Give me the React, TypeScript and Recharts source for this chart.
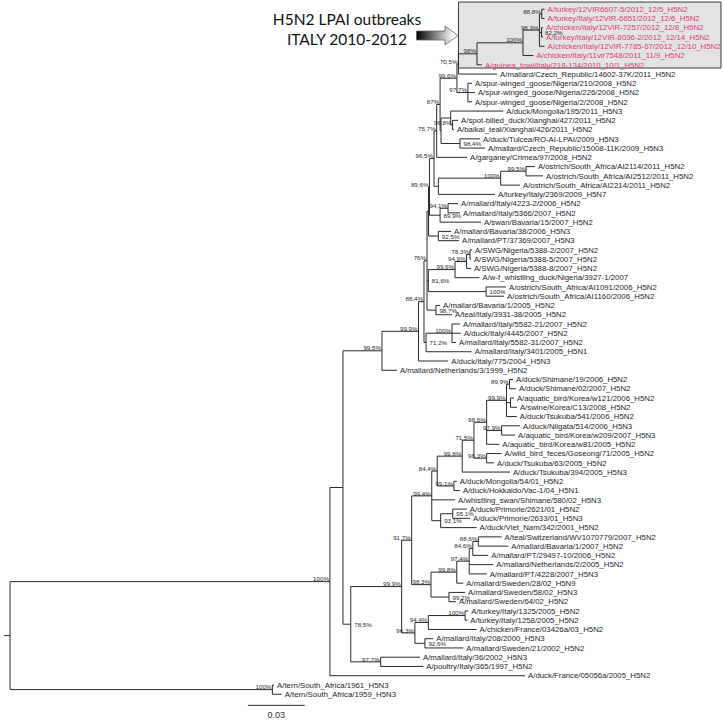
import { ScatterChart, Scatter, XAxis, YAxis, ReferenceLine, ReferenceArea } from "recharts";

// tips, top to bottom (row = index)
const leafNames = [
  "A/turkey/12VIR6607-5/2012_12/5_H5N2",
  "A/turkey/Italy/12VIR-6651/2012_12/6_H5N2",
  "A/chicken/Italy/12VIR-7257/2012_12/8_H5N2",
  "A/turkey/Italy/12VIR-8036-2/2012_12/14_H5N2",
  "A/chicken/Italy/12VIR-7785-67/2012_12/10_H5N2",
  "A/chicken/Italy/11vir7548/2011_11/9_H5N2",
  "A/guinea_fowl/Italy/218-134/2010_10/1_H5N2",
  "A/mallard/Czech_Republic/14602-37K/2011_H5N2",
  "A/spur-winged_goose/Nigeria/210/2008_H5N2",
  "A/spur-winged_goose/Nigeria/226/2008_H5N2",
  "A/spur-winged_goose/Nigeria/2/2008_H5N2",
  "A/duck/Mongolia/195/2011_H5N3",
  "A/spot-billed_duck/Xianghai/427/2011_H5N2",
  "A/baikal_teal/Xianghai/426/2011_H5N2",
  "A/duck/Tulcea/RO-AI-LPAI/2009_H5N3",
  "A/mallard/Czech_Republic/15008-11K/2009_H5N3",
  "A/garganey/Crimea/97/2008_H5N2",
  "A/ostrich/South_Africa/AI2114/2011_H5N2",
  "A/ostrich/South_Africa/AI2512/2011_H5N2",
  "A/ostrich/South_Africa/AI2214/2011_H5N2",
  "A/turkey/Italy/2369/2009_H5N7",
  "A/mallard/Italy/4223-2/2006_H5N2",
  "A/mallard/Italy/5366/2007_H5N2",
  "A/swan/Bavaria/15/2007_H5N2",
  "A/mallard/Bavaria/38/2006_H5N3",
  "A/mallard/PT/37369/2007_H5N3",
  "A/SWG/Nigeria/5388-2/2007_H5N2",
  "A/SWG/Nigeria/5388-5/2007_H5N2",
  "A/SWG/Nigeria/5388-8/2007_H5N2",
  "A/w-f_whistling_duck/Nigeria/3927-1/2007",
  "A/ostrich/South_Africa/AI1091/2006_H5N2",
  "A/ostrich/South_Africa/AI1160/2006_H5N2",
  "A/mallard/Bavaria/1/2005_H5N2",
  "A/teal/Italy/3931-38/2005_H5N2",
  "A/mallard/Italy/5582-21/2007_H5N2",
  "A/duck/Italy/4445/2007_H5N2",
  "A/mallard/Italy/5582-31/2007_H5N2",
  "A/mallard/Italy/3401/2005_H5N1",
  "A/duck/Italy/775/2004_H5N3",
  "A/mallard/Netherlands/3/1999_H5N2",
  "A/duck/Shimane/19/2006_H5N2",
  "A/duck/Shimane/02/2007_H5N2",
  "A/aquatic_bird/Korea/w121/2006_H5N2",
  "A/swine/Korea/C13/2008_H5N2",
  "A/duck/Tsukuba/541/2006_H5N2",
  "A/duck/Niigata/514/2006_H5N3",
  "A/aquatic_bird/Korea/w209/2007_H5N3",
  "A/aquatic_bird/Korea/w81/2005_H5N2",
  "A/wild_bird_feces/Goseong/71/2005_H5N2",
  "A/duck/Tsukuba/63/2005_H5N2",
  "A/duck/Tsukuba/394/2005_H5N3",
  "A/duck/Mongolia/54/01_H5N2",
  "A/duck/Hokkaido/Vac-1/04_H5N1",
  "A/whistling_swan/Shimane/580/02_H5N3",
  "A/duck/Primorie/2621/01_H5N2",
  "A/duck/Primorie/2633/01_H5N3",
  "A/duck/Viet_Nam/342/2001_H5N2",
  "A/teal/Switzerland/WV1070779/2007_H5N2",
  "A/mallard/Bavaria/1/2007_H5N2",
  "A/mallard/PT/29497-10/2006_H5N2",
  "A/mallard/Netherlands/2/2005_H5N2",
  "A/mallard/PT/4228/2007_H5N3",
  "A/mallard/Sweden/28/02_H5N9",
  "A/mallard/Sweden/58/02_H5N3",
  "A/mallard/Sweden/64/02_H5N2",
  "A/turkey/Italy/1325/2005_H5N2",
  "A/turkey/Italy/1258/2005_H5N2",
  "A/chicken/France/03426a/03_H5N2",
  "A/mallard/Italy/208/2000_H5N3",
  "A/mallard/Sweden/21/2002_H5N2",
  "A/mallard/Italy/36/2002_H5N3",
  "A/poultry/Italy/365/1997_H5N2",
  "A/duck/France/05056a/2005_H5N2",
  "A/tern/South_Africa/1961_H5N3",
  "A/tern/South_Africa/1959_H5N3",
];

const leafParents = [
  "n88_8", "n88_8", "n82_2", "n82_2", "n98_3a",
  "n100a", "n98", "n70_5", "n97_7a", "n97_7a",
  "n97_7a", "nMong", "n96_8", "n96_8", "n98_4",
  "n98_4", "n75_7", "n99_5o", "n99_5o", "n100o",
  "n438", "n94_1", "n94_1", "n89_9a", "n92_5",
  "n92_5", "n78_3", "n78_3", "n94_9", "n99_6b",
  "n100b", "n100b", "n98_7", "n98_7", "n100c",
  "n100c", "n100c", "n71_2", "n99_9", "n99_5",
  "n89_9b", "n89_9b", "nKor", "nKor", "n99_9c",
  "n97_9", "n97_9", "n98_6", "n96_3c", "n96_3c",
  "n99_8a", "n99_1", "n99_1", "n99_4", "n95_1",
  "n95_1", "n93_1", "n88_6", "n88_6", "n84_6",
  "n97_4", "n97_4", "n99_8b", "n99_2", "n99_2",
  "n100d", "n100d", "n94_4", "n92_6", "n92_6",
  "n97_7b", "n97_7b", "n330", "n100t", "n100t",
];

// distance from root (substitutions/site)
const leafDepths = [
  0.2824, 0.2824, 0.2816, 0.2816, 0.2824,
  0.2765, 0.2493, 0.2573, 0.2441, 0.2456,
  0.2441, 0.2606, 0.2367, 0.2345, 0.2483,
  0.2509, 0.2414, 0.2773, 0.2816, 0.2694,
  0.2562, 0.2367, 0.2377, 0.2488, 0.2330,
  0.2372, 0.2441, 0.2435, 0.2435, 0.2480,
  0.2620, 0.2610, 0.2272, 0.2335, 0.2377,
  0.2382, 0.2356, 0.2439, 0.2315, 0.2044,
  0.2657, 0.2673, 0.2662, 0.2678, 0.2677,
  0.2694, 0.2668, 0.2585, 0.2597, 0.2557,
  0.2641, 0.2360, 0.2377, 0.2351, 0.2413,
  0.2430, 0.2465, 0.2597, 0.2632, 0.2527,
  0.2553, 0.2518, 0.2395, 0.2404, 0.2356,
  0.2421, 0.2416, 0.2465, 0.2236, 0.2395,
  0.2166, 0.2183, 0.2721, 0.1395, 0.1435,
];

// internal nodes
const nodeIds = [
  "root", "n330", "n343", "n99_5", "n99_9", "n88_4",
  "n76", "nB", "n89_6", "n96_5", "n75_7", "n87",
  "n99_6a", "n70_5", "n98", "n100a", "n98_3a", "n88_8",
  "n82_2", "n97_7a", "nX", "nMong", "n96_8", "n98_4",
  "n438", "n100o", "n99_5o", "n89_9a", "n94_1", "n92_5",
  "n81_6", "n99_6b", "n94_9", "n78_3", "n100b", "n98_7",
  "n71_2", "n100c", "n78_5", "n99_9b", "n91_7", "n99_4",
  "n84_4", "n99_8a", "n71_5", "n98_6", "n99_9c", "n89_9b",
  "nKor", "n97_9", "n96_3c", "n99_1", "n93_1", "n95_1",
  "n98_3b", "n99_8b", "n97_4", "n84_6", "n88_6", "n99_2",
  "n96_3b", "n94_4", "n100d", "n92_6", "n97_7b", "n100t",
];

const nodeParents = [
  "", "root", "n330", "n343", "n99_5", "n99_9",
  "n88_4", "n76", "nB", "n89_6", "n96_5", "n75_7",
  "n87", "n99_6a", "n70_5", "n98", "n100a", "n98_3a",
  "n98_3a", "n99_6a", "n87", "nX", "nMong", "nX",
  "n96_5", "n438", "n100o", "n89_6", "n89_9a", "nB",
  "n76", "n81_6", "n99_6b", "n94_9", "n81_6", "n76",
  "n88_4", "n71_2", "n343", "n78_5", "n99_9b", "n91_7",
  "n99_4", "n84_4", "n99_8a", "n71_5", "n98_6", "n99_9c",
  "n99_9c", "n98_6", "n71_5", "n84_4", "n99_4", "n93_1",
  "n91_7", "n98_3b", "n99_8b", "n97_4", "n84_6", "n98_3b",
  "n99_9b", "n96_3b", "n94_4", "n96_3b", "n78_5", "root",
];

const nodeDepths = [
  0, 0.1690, 0.1759, 0.1965, 0.2158, 0.2187,
  0.2203, 0.2211, 0.2216, 0.2240, 0.2254, 0.2272,
  0.2361, 0.2369, 0.2467, 0.2710, 0.2797, 0.2809,
  0.2808, 0.2419, 0.2277, 0.2328, 0.2338, 0.2377,
  0.2263, 0.2592, 0.2726, 0.2272, 0.2314, 0.2263,
  0.2210, 0.2351, 0.2412, 0.2430, 0.2515, 0.2250,
  0.2198, 0.2335, 0.1800, 0.2069, 0.2122, 0.2228,
  0.2257, 0.2389, 0.2451, 0.2518, 0.2623, 0.2639,
  0.2644, 0.2597, 0.2518, 0.2345, 0.2275, 0.2339,
  0.2224, 0.2360, 0.2426, 0.2445, 0.2474, 0.2319,
  0.2139, 0.2210, 0.2404, 0.2192, 0.1958, 0.1386,
];

// bootstrap support
const nodeSupport = [
  "", "100%", "", "99,5%", "99,9%", "88,4%",
  "76%", "", "89,6%", "96,5%", "75,7%", "87%",
  "99,6%", "70,5%", "98%", "100%", "98,3%", "88,8%",
  "82,2%", "97,7%", "", "", "96,8%", "98,4%",
  "", "100%", "99,5%", "89,9%", "94,1%", "92,5%",
  "81,6%", "99,6%", "94,9%", "78,3%", "100%", "98,7%",
  "71,2%", "100%", "78,5%", "99,9%", "91,7%", "99,4%",
  "84,4%", "99,8%", "71,5%", "98,6%", "99,9%", "89,9%",
  "", "97,9%", "96,3%", "99,1%", "93,1%", "95,1%",
  "98,3%", "99,8%", "97,4%", "84,6%", "88,6%", "99,2%",
  "96,3%", "94,4%", "100%", "92,6%", "97,7%", "100%",
];

// support values drawn to the right of their node
const insideLabelNodes = [
  "n82_2", "n98_4", "n89_9a", "n92_5", "n81_6", "n100b",
  "n98_7", "n71_2", "n78_5", "n93_1", "n95_1", "n99_2", "n92_6",
];

const highlightClade = "n98";
const rootStem = 0.0032;
const scaleBarStart = 0.1257;
const scaleBarLength = 0.03;
const titleLines = ["H5N2 LPAI outbreaks", "ITALY 2010-2012"];

const LINE = "#2a2a2a";
const PINK = "#de3b7c";
const FONT = "'Liberation Sans', Arial, Helvetica, sans-serif";

// ---- build tree geometry (in data units) ----
const depthOf: Record<string, number> = {};
const parentOf: Record<string, string> = {};
nodeIds.forEach((id, i) => {
  depthOf[id] = nodeDepths[i];
  parentOf[id] = nodeParents[i];
});

const nodeRow: Record<string, number> = {};
const nodeSpan: Record<string, [number, number]> = {};
function placeNode(id: string): number {
  if (nodeRow[id] !== undefined) return nodeRow[id];
  const rows: number[] = [];
  leafParents.forEach((p, i) => {
    if (p === id) rows.push(i);
  });
  nodeIds.forEach((c, i) => {
    if (nodeParents[i] === id) rows.push(placeNode(c));
  });
  const lo = Math.min(...rows);
  const hi = Math.max(...rows);
  nodeSpan[id] = [lo, hi];
  nodeRow[id] = (lo + hi) / 2;
  return nodeRow[id];
}
nodeIds.forEach(placeNode);

type Seg = { x1: number; x2: number; y1: number; y2: number };
const branches: Seg[] = [];
leafNames.forEach((_, i) => {
  branches.push({ x1: depthOf[leafParents[i]], x2: leafDepths[i], y1: i, y2: i });
});
nodeIds.forEach((id, i) => {
  const p = nodeParents[i];
  const y = nodeRow[id];
  branches.push({ x1: p ? depthOf[p] : -rootStem, x2: nodeDepths[i], y1: y, y2: y });
  branches.push({ x1: nodeDepths[i], x2: nodeDepths[i], y1: nodeSpan[id][0], y2: nodeSpan[id][1] });
});

function inClade(node: string, clade: string) {
  let cur = node;
  while (cur) {
    if (cur === clade) return true;
    cur = parentOf[cur];
  }
  return false;
}

const leafLabels = leafNames.map((name, i) => ({
  x: leafDepths[i],
  y: i,
  name,
  hl: inClade(leafParents[i], highlightClade),
}));

const supportLabels = nodeIds
  .map((id, i) => ({
    x: nodeDepths[i],
    y: nodeRow[id],
    text: nodeSupport[i],
    inside: insideLabelNodes.includes(id),
  }))
  .filter((d) => d.text);

const cladeRows = leafLabels.filter((d) => d.hl).map((d) => d.y);
const boxLeft = depthOf[parentOf[highlightClade]];

const scaleRow = leafNames.length + 0.2;
const scaleText = [{ x: scaleBarStart + scaleBarLength / 2, y: scaleRow + 1, text: String(scaleBarLength) }];

export default function App() {
  return (
    <div style={{ position: "absolute", left: 0, top: 0, width: 724, height: 722, background: "#fff" }}>
      <ScatterChart width={724} height={722} margin={{ top: 0, right: 0, bottom: 0, left: 0 }}>
        <XAxis type="number" dataKey="x" domain={[-0.0053, 0.3772]} allowDataOverflow hide />
        <YAxis type="number" dataKey="y" domain={[-1, 77]} allowDataOverflow reversed hide />
        <ReferenceArea
          x1={boxLeft}
          x2={0.3756}
          y1={Math.min(...cladeRows) - 0.78}
          y2={Math.max(...cladeRows) + 0.35}
          fill="#e3e3e3"
          fillOpacity={1}
          stroke="#3a3a3a"
          strokeWidth={1}
          ifOverflow="visible"
        />
        {branches.map((s, i) => (
          <ReferenceLine
            key={"b" + i}
            segment={[
              { x: s.x1, y: s.y1 },
              { x: s.x2, y: s.y2 },
            ]}
            stroke={LINE}
            strokeWidth={1}
            ifOverflow="visible"
          />
        ))}
        <ReferenceLine
          segment={[
            { x: scaleBarStart, y: scaleRow },
            { x: scaleBarStart + scaleBarLength, y: scaleRow },
          ]}
          stroke={LINE}
          strokeWidth={1}
          ifOverflow="visible"
        />
        <Scatter
          data={leafLabels}
          isAnimationActive={false}
          shape={(p: any) => (
            <text
              x={p.cx + 3}
              y={p.cy}
              dy="0.35em"
              fontSize={7.8}
              fontFamily={FONT}
              fill={p.payload.hl ? PINK : "#1e1e1e"}
            >
              {p.payload.name}
            </text>
          )}
        />
        <Scatter
          data={supportLabels}
          isAnimationActive={false}
          shape={(p: any) =>
            p.payload.inside ? (
              <text x={p.cx + 3.5} y={p.cy + 0.5} dy="0.35em" fontSize={6.2} fontFamily={FONT} fill="#2a2a2a">
                {p.payload.text}
              </text>
            ) : (
              <text
                x={p.cx - 1}
                y={p.cy - 2.5}
                dy="0.35em"
                textAnchor="end"
                fontSize={6.2}
                fontFamily={FONT}
                fill="#2a2a2a"
              >
                {p.payload.text}
              </text>
            )
          }
        />
        <Scatter
          data={scaleText}
          isAnimationActive={false}
          shape={(p: any) => (
            <text x={p.cx} y={p.cy} dy="0.35em" textAnchor="middle" fontSize={9} fontFamily={FONT} fill="#333">
              {p.payload.text}
            </text>
          )}
        />
      </ScatterChart>
      <svg
        width={724}
        height={60}
        style={{ position: "absolute", left: 0, top: 0, pointerEvents: "none" }}
      >
        <defs>
          <linearGradient id="arrowFill" x1="0" y1="0" x2="1" y2="0">
            <stop offset="0%" stopColor="#000" />
            <stop offset="90%" stopColor="#fff" />
          </linearGradient>
        </defs>
        {titleLines.map((t, i) => (
          <text
            key={t}
            x={347}
            y={25 + i * 20}
            textAnchor="middle"
            fontSize={15.5}
            fontFamily="Lato, 'Open Sans', sans-serif"
            fill="#111"
          >
            {t}
          </text>
        ))}
        <path
          d="M416.5 31 H445 V26 L458 35.5 L445 45 V40 H416.5 Z"
          fill="url(#arrowFill)"
          stroke="#666"
          strokeWidth={0.8}
        />
      </svg>
    </div>
  );
}
